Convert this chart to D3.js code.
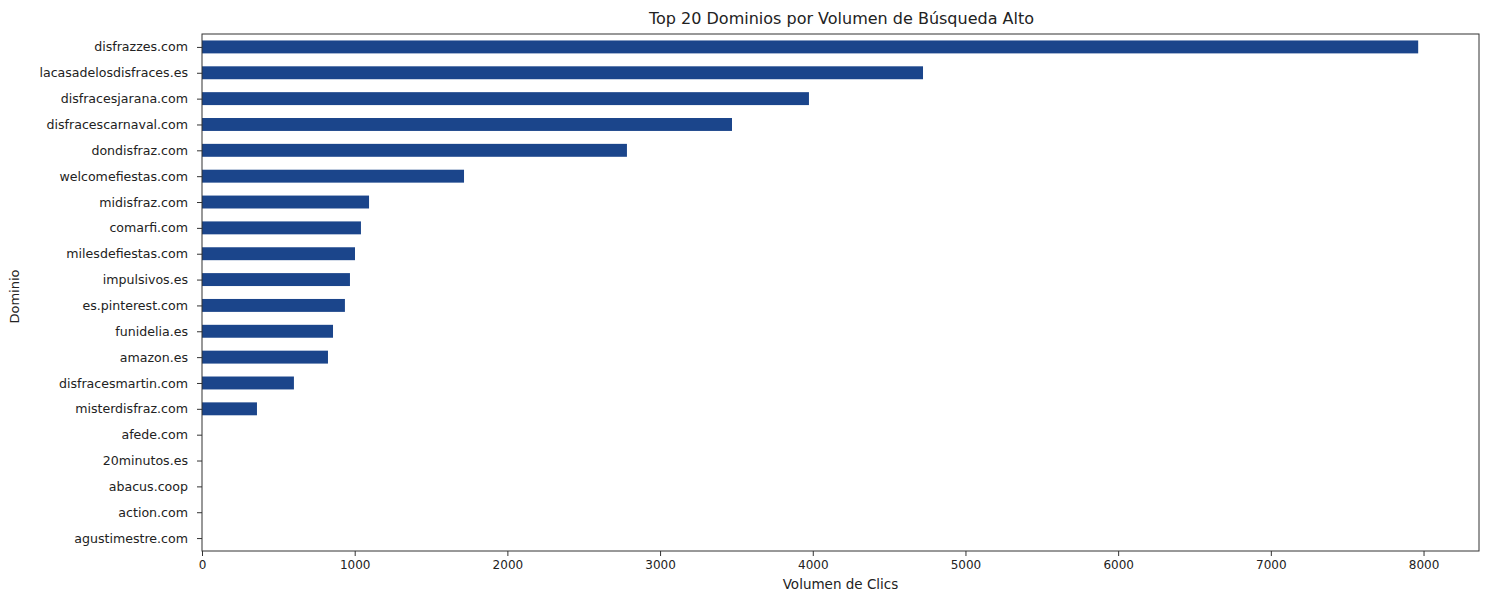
<!DOCTYPE html>
<html><head><meta charset="utf-8">
<script src="https://cdn.jsdelivr.net/npm/d3@7"></script>
<style>body{margin:0;background:#fff;}svg{display:block;font-family:"DejaVu Sans",sans-serif;}</style>
</head><body><svg id="c" width="1485" height="594"></svg>
<script>
const domains = ["disfrazzes.com","lacasadelosdisfraces.es","disfracesjarana.com","disfracescarnaval.com","dondisfraz.com","welcomefiestas.com","midisfraz.com","comarfi.com","milesdefiestas.com","impulsivos.es","es.pinterest.com","funidelia.es","amazon.es","disfracesmartin.com","misterdisfraz.com","afede.com","20minutos.es","abacus.coop","action.com","agustimestre.com"];
const clicks = [7965,4722,3975,3471,2783,1716,1094,1041,1002,969,936,858,825,602,360,0,0,0,0,0];
const xTicks = [0,1000,2000,3000,4000,5000,6000,7000,8000];
const title = "Top 20 Dominios por Volumen de Búsqueda Alto";
const xLabel = "Volumen de Clics";
const yLabel = "Dominio";

const svg = d3.select("#c");
const L=202, R=1479, T=34, B=551;
const maxV = d3.max(clicks);
const x = d3.scaleLinear().domain([0, maxV*1.05]).range([L,R]);
const y = d3.scaleLinear().domain([-0.5, domains.length-0.5]).range([T,B]);
const bh = (y(1)-y(0))*0.5;

svg.append("g").selectAll("rect").data(domains).join("rect")
  .attr("x", x(0)).attr("y",(d,i)=>y(i)-bh/2)
  .attr("width",(d,i)=>x(clicks[i])-x(0)).attr("height",bh)
  .attr("fill","#1b458b");

const xa = svg.append("g").attr("transform",`translate(0,${B})`)
  .call(d3.axisBottom(x).tickValues(xTicks).tickFormat(d3.format("d")).tickSizeOuter(0).tickSize(5).tickPadding(4));
const ya = svg.append("g").attr("transform",`translate(${L},0)`)
  .call(d3.axisLeft(y).tickValues(d3.range(domains.length)).tickFormat(i=>domains[i]).tickSizeOuter(0).tickSize(5).tickPadding(9));
[xa,ya].forEach(a=>{a.select(".domain").remove();a.selectAll("text").attr("font-family","DejaVu Sans").attr("fill","#222");a.selectAll("line").attr("stroke","#333");});
xa.selectAll("text").attr("font-size",12);
ya.selectAll("text").attr("font-size",12.6);

svg.append("rect").attr("x",L).attr("y",T).attr("width",R-L).attr("height",B-T)
  .attr("fill","none").attr("stroke","#333").attr("stroke-width",1);

svg.append("text").attr("x",(L+R)/2+1).attr("y",24).attr("text-anchor","middle")
  .attr("font-size",16).attr("fill","#222").text(title);
svg.append("text").attr("x",(L+R)/2).attr("y",589).attr("text-anchor","middle")
  .attr("font-size",13.5).attr("fill","#222").text(xLabel);
svg.append("text").attr("transform",`translate(19,${(T+B)/2+4}) rotate(-90)`).attr("text-anchor","middle")
  .attr("font-size",13).attr("fill","#222").text(yLabel);
</script></body></html>
